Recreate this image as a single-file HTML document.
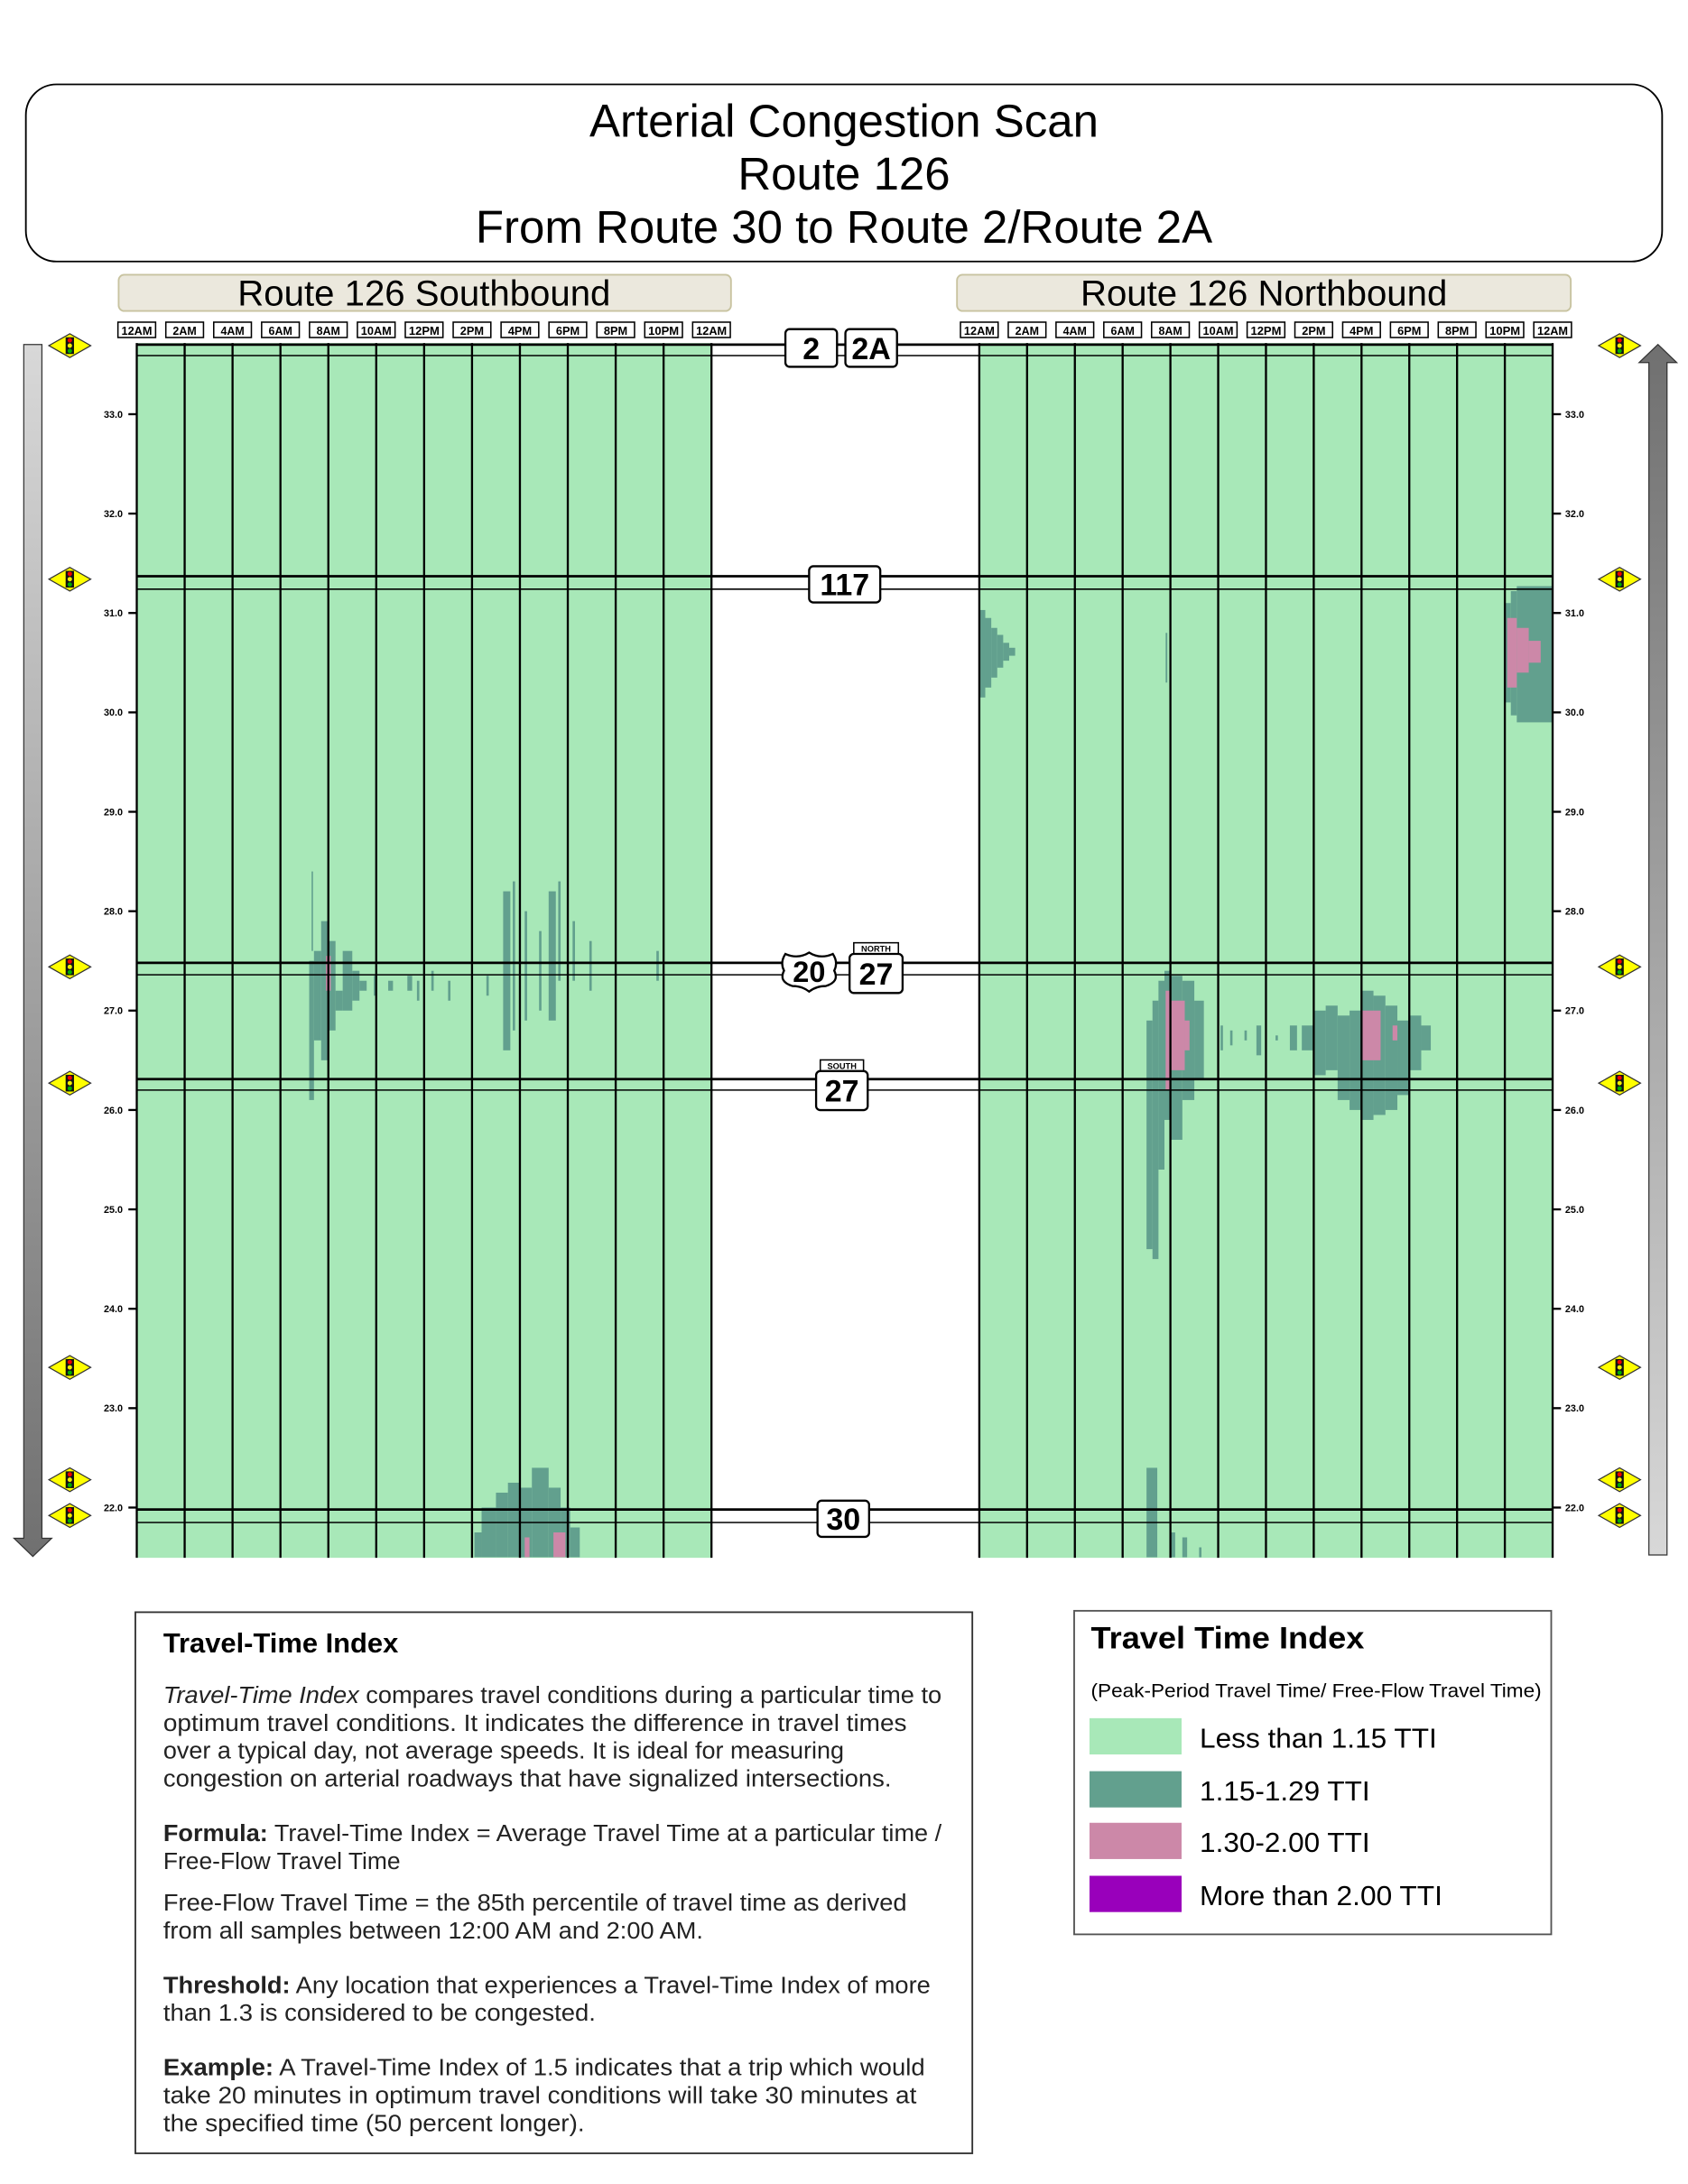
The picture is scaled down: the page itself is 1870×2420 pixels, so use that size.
<!DOCTYPE html>
<html><head><meta charset="utf-8"><style>
html,body{margin:0;padding:0;background:#fff;}
svg{display:block;font-family:"Liberation Sans",sans-serif;}
</style></head><body>
<svg id="chart" width="1870" height="2420" viewBox="0 0 1210 1566" xmlns="http://www.w3.org/2000/svg">
<rect x="0" y="0" width="1210" height="1566" fill="#fff"/>
<g>
<rect x="18.5" y="60.5" width="1173" height="127" rx="22" fill="#fff" stroke="#000" stroke-width="1.2"/>
<text x="605" y="98" text-anchor="middle" font-size="33">Arterial Congestion Scan</text>
<text x="605" y="136" text-anchor="middle" font-size="33">Route 126</text>
<text x="605" y="174" text-anchor="middle" font-size="33">From Route 30 to Route 2/Route 2A</text>
</g>
<g>
<rect x="85" y="197" width="439" height="26" rx="4" fill="#ebe8dd" stroke="#c8c3a0" stroke-width="1.2"/>
<text x="304" y="219" text-anchor="middle" font-size="26">Route 126 Southbound</text>
</g>
<g>
<rect x="686" y="197" width="440" height="26" rx="4" fill="#ebe8dd" stroke="#c8c3a0" stroke-width="1.2"/>
<text x="906" y="219" text-anchor="middle" font-size="26">Route 126 Northbound</text>
</g>
<g id="plots"></g>
<g id="overlay"></g>
<g>
<defs>
<linearGradient id="gdn" x1="0" y1="0" x2="0" y2="1"><stop offset="0" stop-color="#d8d8d8"/><stop offset="1" stop-color="#707070"/></linearGradient>
<linearGradient id="gup" x1="0" y1="1" x2="0" y2="0"><stop offset="0" stop-color="#d8d8d8"/><stop offset="1" stop-color="#707070"/></linearGradient>
</defs>
<path d="M17 247 H30 V1103 H37 L23.5 1116 L10 1103 H17 Z" fill="url(#gdn)" stroke="#333" stroke-width="0.8"/>
</g>
<g>
<path d="M1182 1115 H1195 V260 H1202 L1188.5 247 L1175 260 H1182 Z" fill="url(#gup)" stroke="#333" stroke-width="0.8"/>
</g>
<g>
<rect x="97" y="1156" width="600" height="388" fill="#fff" stroke="#333" stroke-width="1.2"/>
<text x="117" y="1185" font-size="20" font-weight="bold">Travel-Time Index</text>
<g font-size="17" fill="#222">
<text x="117" y="1221" textLength="558" lengthAdjust="spacingAndGlyphs"><tspan font-style="italic">Travel-Time Index</tspan> compares travel conditions during a particular time to</text>
<text x="117" y="1241" textLength="533" lengthAdjust="spacingAndGlyphs">optimum travel conditions. It indicates the difference in travel times</text>
<text x="117" y="1261" textLength="488" lengthAdjust="spacingAndGlyphs">over a typical day, not average speeds. It is ideal for measuring</text>
<text x="117" y="1281" textLength="522" lengthAdjust="spacingAndGlyphs">congestion on arterial roadways that have signalized intersections.</text>
<text x="117" y="1320" textLength="558" lengthAdjust="spacingAndGlyphs"><tspan font-weight="bold">Formula:</tspan> Travel-Time Index = Average Travel Time at a particular time /</text>
<text x="117" y="1340" textLength="170" lengthAdjust="spacingAndGlyphs">Free-Flow Travel Time</text>
<text x="117" y="1370" textLength="533" lengthAdjust="spacingAndGlyphs">Free-Flow Travel Time = the 85th percentile of travel time as derived</text>
<text x="117" y="1390" textLength="387" lengthAdjust="spacingAndGlyphs">from all samples between 12:00 AM and 2:00 AM.</text>
<text x="117" y="1429" textLength="550" lengthAdjust="spacingAndGlyphs"><tspan font-weight="bold">Threshold:</tspan> Any location that experiences a Travel-Time Index of more</text>
<text x="117" y="1449" textLength="310" lengthAdjust="spacingAndGlyphs">than 1.3 is considered to be congested.</text>
<text x="117" y="1488" textLength="546" lengthAdjust="spacingAndGlyphs"><tspan font-weight="bold">Example:</tspan> A Travel-Time Index of 1.5 indicates that a trip which would</text>
<text x="117" y="1508" textLength="540" lengthAdjust="spacingAndGlyphs">take 20 minutes in optimum travel conditions will take 30 minutes at</text>
<text x="117" y="1528" textLength="302" lengthAdjust="spacingAndGlyphs">the specified time (50 percent longer).</text>
</g>
</g>
<g>
<rect x="770" y="1155" width="342" height="232" fill="#fff" stroke="#555" stroke-width="1.2"/>
<text x="782" y="1182" font-size="22" font-weight="bold" textLength="196" lengthAdjust="spacingAndGlyphs">Travel Time Index</text>
<text x="782" y="1217" font-size="14" textLength="323" lengthAdjust="spacingAndGlyphs">(Peak-Period Travel Time/ Free-Flow Travel Time)</text>
<g><rect x="781" y="1232" width="66" height="26" fill="#a8e8b8"/><text x="860" y="1253" font-size="20" textLength="170" lengthAdjust="spacingAndGlyphs">Less than 1.15 TTI</text></g>
<g><rect x="781" y="1270" width="66" height="26" fill="#62a08e"/><text x="860" y="1291" font-size="20" textLength="122" lengthAdjust="spacingAndGlyphs">1.15-1.29 TTI</text></g>
<g><rect x="781" y="1307" width="66" height="26" fill="#cc88a8"/><text x="860" y="1328" font-size="20" textLength="122" lengthAdjust="spacingAndGlyphs">1.30-2.00 TTI</text></g>
<g><rect x="781" y="1345" width="66" height="26" fill="#9900bb"/><text x="860" y="1366" font-size="20" textLength="174" lengthAdjust="spacingAndGlyphs">More than 2.00 TTI</text></g>
</g>
</svg>
<script>
// ---- data ----
const timeLabels = ["12AM","2AM","4AM","6AM","8AM","10AM","12PM","2PM","4PM","6PM","8PM","10PM","12AM"];
const mileTicks = [33.0,32.0,31.0,30.0,29.0,28.0,27.0,26.0,25.0,24.0,23.0,22.0];
const levelColors = ["#a8e8b8","#62a08e","#cc88a8","#9900bb"];
// crossings: [label, mileThick, mileThin]
const crossingMiles = [33.7, 33.59, 31.37, 31.24, 27.48, 27.36, 26.31, 26.2, 21.98, 21.85];
const signalMiles = [33.69, 31.34, 27.44, 26.27, 23.41, 22.28, 21.92];
// Southbound congestion cells: hour start, hour end, top mile, bottom mile, level
const sbHourStart = [7.2,7.3,7.4,7.7,8.0,8.3,8.6,9.0,9.3,7.9, 9.9,10.5,11.3,11.7,12.3,13.0,14.6,15.3,15.7,16.2,16.8,17.2,17.6,18.2,18.9,21.7, 14.1,14.4,15.0,15.5,16.0,16.5,17.2,17.7,18.1,16.2,17.4];
const sbHourEnd   = [7.4,7.36,7.7,8.0,8.3,8.6,9.0,9.3,9.6,8.1, 10.0,10.7,11.5,11.8,12.4,13.1,14.7,15.6,15.8,16.3,16.9,17.5,17.7,18.3,19.0,21.8, 14.4,15.0,15.5,16.0,16.5,17.2,17.7,18.1,18.5,16.4,17.9];
const sbMileTop   = [27.5,28.4,27.6,27.9,27.7,27.2,27.6,27.4,27.3,27.55, 27.35,27.3,27.35,27.3,27.4,27.3,27.35,28.2,28.3,28.0,27.8,28.2,28.3,27.9,27.7,27.6, 21.75,22.0,22.15,22.25,22.2,22.4,22.2,22.0,21.8,21.7,21.75];
const sbMileBot   = [26.1,27.6,26.7,26.5,26.8,27.0,27.0,27.1,27.2,27.2, 27.15,27.2,27.2,27.1,27.2,27.1,27.15,26.6,26.8,26.9,27.0,26.9,27.3,27.3,27.2,27.3, 21.5,21.5,21.5,21.5,21.5,21.5,21.5,21.5,21.5,21.5,21.5];
const sbLevel     = [1,1,1,1,1,1,1,1,1,2, 1,1,1,1,1,1,1,1,1,1,1,1,1,1,1,1, 1,1,1,1,1,1,1,1,1,2,2];
// Northbound congestion cells
const nbHourStart = [0,0.25,0.5,0.75,1.0,1.25, 22.0,22.25,22.5,22.1,22.5,23.0, 7.0,7.25,7.5,7.75,8.0,8.5,9.0,7.8,8.0,8.6,7.8, 10.1,10.5,11.1,11.6,12.4,13.0, 13.5,14.0,14.5,15.0,15.5,16.0,16.5,17.0,17.5,18.0,18.5,16.0,17.3, 7.0,8.0,8.5,9.2];
const nbHourEnd   = [0.25,0.5,0.75,1.0,1.25,1.5, 22.25,22.5,24.0,22.5,23.0,23.5, 7.25,7.5,7.75,8.0,8.5,9.0,9.4,8.0,8.6,8.8,7.87, 10.2,10.6,11.2,11.8,12.5,13.3, 14.0,14.5,15.0,15.5,16.0,16.5,17.0,17.5,18.0,18.5,18.9,16.8,17.5, 7.45,8.2,8.7,9.3];
const nbMileTop   = [31.03,30.95,30.85,30.78,30.7,30.65, 31.1,31.22,31.27,30.95,30.85,30.72, 26.9,27.1,27.3,27.4,27.35,27.3,27.1,27.2,27.1,26.9,30.8, 26.85,26.8,26.8,26.85,26.75,26.85, 26.85,27.0,27.05,26.95,27.0,27.2,27.15,27.05,26.9,26.95,26.85,27.0,26.85, 22.4,21.75,21.7,21.6];
const nbMileBot   = [30.15,30.25,30.35,30.45,30.52,30.57, 30.1,29.97,29.9,30.25,30.4,30.5, 24.6,24.5,25.4,25.9,25.7,26.1,26.3,26.2,26.4,26.6,30.3, 26.6,26.65,26.7,26.55,26.7,26.6, 26.6,26.35,26.4,26.1,26.0,25.9,25.95,26.0,26.15,26.4,26.6,26.5,26.7, 21.5,21.5,21.5,21.5];
const nbLevel     = [1,1,1,1,1,1, 1,1,1,2,2,2, 1,1,1,1,1,1,1,2,2,2,1, 1,1,1,1,1,1, 1,1,1,1,1,1,1,1,1,1,1,2,2, 1,1,1,1];

// ---- scales ----
const PLOT_TOP = 246, PLOT_BOT = 1117;
const panels = [{name:'southbound', x0:98, x1:510, hs:sbHourStart, he:sbHourEnd, mt:sbMileTop, mb:sbMileBot, lv:sbLevel},
                {name:'northbound', x0:702, x1:1113, hs:nbHourStart, he:nbHourEnd, mt:nbMileTop, mb:nbMileBot, lv:nbLevel}];
function yScale(m){ return 297 + (33 - m) * 71.27; }
function xScale(p, h){ return p.x0 + h * (p.x1 - p.x0) / 24; }
const NS = "http://www.w3.org/2000/svg";
function mk(tag, attrs, parent){ const e = document.createElementNS(NS, tag); for (const k in attrs) e.setAttribute(k, attrs[k]); parent.appendChild(e); return e; }
const plots = document.getElementById('plots');
const overlay = document.getElementById('overlay');

panels.forEach(p => {
  const g = mk('g', {}, plots);
  
  
  const bg = mk('rect', {x:p.x0, y:PLOT_TOP, width:p.x1-p.x0, height:PLOT_BOT-PLOT_TOP, fill:levelColors[0]}, g);
  
  
  for (let i = 0; i < p.hs.length; i++) {
    const x = xScale(p, p.hs[i]), w = xScale(p, p.he[i]) - x;
    const yt = Math.max(PLOT_TOP, yScale(p.mt[i])), yb = Math.min(PLOT_BOT, yScale(p.mb[i]));
    const r = mk('rect', {x:x, y:yt, width:w, height:yb-yt, fill:levelColors[p.lv[i]]}, g);
    
    
  }
  // vertical grid
  for (let i = 0; i <= 12; i++) {
    const x = xScale(p, i*2);
    const l = mk('line', {x1:x, x2:x, y1:PLOT_TOP, y2:PLOT_BOT, stroke:'#000', 'stroke-width':1.5}, g);
    
    
    const tg = mk('g', {}, g);
    
    
    mk('rect', {x:x-13.5, y:231, width:27, height:11, fill:'#fff', stroke:'#000', 'stroke-width':1}, tg);
    const t = mk('text', {x:x, y:240, 'text-anchor':'middle', 'font-size':8.5, 'font-weight':'bold', textLength: timeLabels[i].length > 3 ? 22 : 17, lengthAdjust:'spacingAndGlyphs'}, tg);
    t.textContent = timeLabels[i];
  }
});

// mile ticks
mileTicks.forEach(m => {
  const y = yScale(m);
  [[92,98,88,'end'],[1113,1119,1122,'start']].forEach((c,j) => {
    const l = mk('line', {x1:c[0], x2:c[1], y1:y, y2:y, stroke:'#000', 'stroke-width':1.5}, overlay);
    
    
    const t = mk('text', {x:c[2], y:y+2.5, 'text-anchor':c[3], 'font-size':7, 'font-weight':'bold'}, overlay);
    
    
    t.textContent = m.toFixed(1);
  });
});

// crossings
for (let i = 0; i < crossingMiles.length; i += 2) {
  const yA = yScale(crossingMiles[i]), yB = yScale(crossingMiles[i+1]);
  const l1 = mk('line', {x1:98, x2:1113, y1:Math.max(yA,PLOT_TOP), y2:Math.max(yA,PLOT_TOP), stroke:'#000', 'stroke-width':1.8}, overlay);
  
  
  const l2 = mk('line', {x1:98, x2:1113, y1:yB, y2:yB, stroke:'#000', 'stroke-width':1}, overlay);
  
  
}
// signals
signalMiles.forEach(m => {
  const y = yScale(m);
  [50, 1161].forEach(cx => {
    const g = mk('g', {}, overlay);
    
    
    mk('path', {d:`M${cx-15} ${y} L${cx} ${y-8.5} L${cx+15} ${y} L${cx} ${y+8.5} Z`, fill:'#ffff00', stroke:'#333', 'stroke-width':0.8}, g);
    mk('rect', {x:cx-3, y:y-6, width:6, height:12, fill:'#111'}, g);
    mk('circle', {cx:cx, cy:y-3.8, r:1.6, fill:'#e00'}, g);
    mk('circle', {cx:cx, cy:y, r:1.6, fill:'#ee0'}, g);
    mk('circle', {cx:cx, cy:y+3.8, r:1.6, fill:'#0a0'}, g);
  });
});
// route shields
function box(x, y, w, h, label, fs, name, top){
  const g = mk('g', {}, overlay);
  
  
  if (top) {
    mk('rect', {x:x+3, y:y-8, width:w-6, height:8, fill:'#fff', stroke:'#000', 'stroke-width':1}, g);
    const tt = mk('text', {x:x+w/2, y:y-1.5, 'text-anchor':'middle', 'font-size':6, 'font-weight':'bold'}, g);
    tt.textContent = top;
  }
  mk('rect', {x:x, y:y, width:w, height:h, rx:3, fill:'#fff', stroke:'#000', 'stroke-width':1.5}, g);
  const t = mk('text', {x:x+w/2, y:y+h/2+fs*0.36, 'text-anchor':'middle', 'font-size':fs, 'font-weight':'bold'}, g);
  t.textContent = label;
}
box(563, 236, 37, 27, '2', 22, 'route-2-shield');
box(606, 236, 37, 27, '2A', 22, 'route-2a-shield');
box(580, 406, 51, 26, '117', 22, 'route-117-shield');
box(609, 684, 38, 28, '27', 22, 'route-27-north-shield', 'NORTH');
box(585, 768, 37, 28, '27', 22, 'route-27-south-shield', 'SOUTH');
box(586, 1076, 37, 26, '30', 22, 'route-30-shield');
(function(){
  const g = mk('g', {}, overlay);
  
  
  mk('path', {d:'M563 684 Q572 688 580 683 Q588 688 597 684 Q601 690 598 696 Q602 704 592 707 Q585 707 580 711 Q575 707 568 707 Q558 704 562 696 Q559 690 563 684 Z', fill:'#fff', stroke:'#000', 'stroke-width':1.5}, g);
  const t = mk('text', {x:580, y:704, 'text-anchor':'middle', 'font-size':21, 'font-weight':'bold'}, g);
  t.textContent = '20';
})();
</script>
</body></html>
